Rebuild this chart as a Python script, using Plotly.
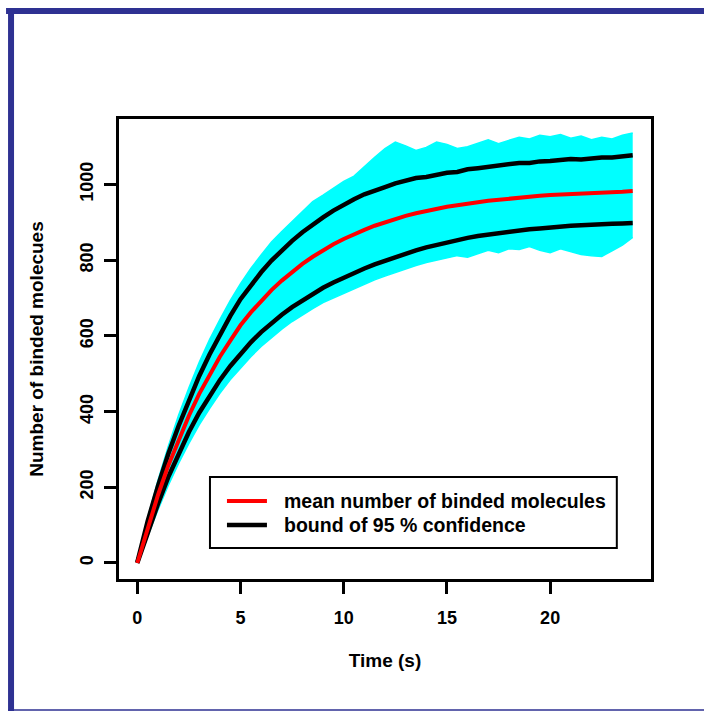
import plotly.graph_objects as go

# ---------------- data ----------------
time_s = [i * 0.5 for i in range(49)]  # 0 .. 24 s

mean_binded = [0, 94, 179, 257, 326, 389, 447, 498, 545, 587,
               628, 662, 693, 721, 746, 769, 790, 809, 826, 842,
               856, 869, 880, 891, 900, 909, 917, 924, 930, 935,
               941, 945, 950, 953, 957, 960, 963, 965, 967, 970,
               972, 973, 975, 976, 978, 979, 980, 981, 983]

upper_bound = [2, 110, 203, 288, 362, 431, 494, 551, 603, 652,
               697, 735, 768, 799, 826, 851, 874, 895, 913, 931,
               947, 961, 974, 985, 993, 1003, 1010, 1017, 1020, 1026,
               1031, 1033, 1040, 1043, 1047, 1050, 1054, 1057, 1057, 1061,
               1062, 1064, 1067, 1066, 1069, 1071, 1071, 1075, 1077]

lower_bound = [0, 80, 156, 227, 290, 346, 397, 442, 483, 520,
               553, 583, 610, 634, 656, 676, 694, 711, 727, 741,
               754, 766, 778, 789, 799, 809, 818, 826, 834, 841,
               848, 854, 859, 864, 868, 872, 876, 879, 882, 884,
               887, 889, 891, 892, 894, 895, 896, 897, 898]

runs_max = [5, 118, 218, 308, 390, 463, 530, 590, 643, 693,
            738, 778, 814, 848, 876, 903, 928, 955, 972, 990,
            1008, 1022, 1048, 1072, 1095, 1112, 1102, 1090, 1098, 1112,
            1106, 1095, 1100, 1110, 1118, 1108, 1116, 1125, 1120, 1130,
            1126, 1132, 1122, 1128, 1118, 1125, 1120, 1130, 1136]

runs_min = [0, 72, 140, 205, 263, 316, 365, 408, 448, 484,
            516, 545, 572, 596, 618, 638, 656, 672, 688, 700,
            712, 724, 738, 748, 758, 768, 778, 786, 794, 800,
            806, 812, 808, 818, 826, 820, 830, 828, 836, 826,
            820, 830, 822, 815, 812, 810, 825, 840, 860]

x_ticks = [0, 5, 10, 15, 20]
y_ticks = [0, 200, 400, 600, 800, 1000]

legend_labels = ["mean number of binded molecules", "bound of 95 % confidence"]

# ---------------- layout geometry ----------------
W, H = 704, 711
L, R, T, B = 119, 52.8, 119, 132
PW, PH = W - L - R, H - T - B
FRAME = "#2E3192"
CYAN = "#00FFFF"
FONT = dict(family="Liberation Sans, Arial, sans-serif", color="black", weight="bold")


def px(x):
    return (x - L) / PW


def py(y):
    return (H - B - y) / PH


fig = go.Figure()

# band of simulated runs
fig.add_trace(go.Scatter(x=time_s, y=runs_min, mode="lines",
                         line=dict(color=CYAN, width=1.5), showlegend=False,
                         hoverinfo="skip"))
fig.add_trace(go.Scatter(x=time_s, y=runs_max, mode="lines", fill="tonexty",
                         fillcolor=CYAN, line=dict(color=CYAN, width=1.5),
                         showlegend=False, hoverinfo="skip"))

# confidence bounds
fig.add_trace(go.Scatter(x=time_s, y=upper_bound, mode="lines",
                         line=dict(color="black", width=4.5),
                         name=legend_labels[1], showlegend=False))
fig.add_trace(go.Scatter(x=time_s, y=lower_bound, mode="lines",
                         line=dict(color="black", width=4.5),
                         name=legend_labels[1], showlegend=False))

# mean
fig.add_trace(go.Scatter(x=time_s, y=mean_binded, mode="lines",
                         line=dict(color="red", width=4),
                         name=legend_labels[0], showlegend=False))

axis_common = dict(showline=True, linewidth=3, linecolor="black", mirror=True,
                   ticks="outside", ticklen=12, tickwidth=3, tickcolor="black",
                   showgrid=False, zeroline=False,
                   tickfont=dict(size=18, **FONT))

fig.update_xaxes(range=[-0.886, 24.886], tickvals=x_ticks, ticklabelstandoff=8,
                 title=dict(text="Time (s)", font=dict(size=19, **FONT), standoff=28),
                 **axis_common)
fig.update_yaxes(range=[-42.3, 1173], tickvals=y_ticks, tickangle=-90,
                 ticklabelstandoff=4,
                 title=dict(text="Number of binded molecues", font=dict(size=19, **FONT), standoff=29),
                 **axis_common)

# outer frame of the figure
fig.add_shape(type="rect", xref="paper", yref="paper", x0=px(6), x1=px(706),
              y0=py(14), y1=py(8), fillcolor=FRAME, line_width=0, layer="above")
fig.add_shape(type="rect", xref="paper", yref="paper", x0=px(8), x1=px(14),
              y0=py(712), y1=py(8), fillcolor=FRAME, line_width=0, layer="above")
fig.add_shape(type="rect", xref="paper", yref="paper", x0=px(8), x1=px(706),
              y0=py(710.8), y1=py(709.3), fillcolor=FRAME, line_width=0, layer="above")

# legend box (drawn like R's legend())
fig.add_shape(type="rect", xref="paper", yref="paper", x0=px(210), x1=px(617),
              y0=py(548), y1=py(477), fillcolor="white",
              line=dict(color="black", width=2), layer="above")
for row_y, colr, lw, label in [(501, "red", 4, legend_labels[0]),
                               (525, "black", 4.5, legend_labels[1])]:
    fig.add_shape(type="line", xref="paper", yref="paper", x0=px(227), x1=px(267),
                  y0=py(row_y), y1=py(row_y), line=dict(color=colr, width=lw),
                  layer="above")
    fig.add_annotation(xref="paper", yref="paper", x=px(282), y=py(row_y),
                       xanchor="left", yanchor="middle", showarrow=False,
                       text=label, font=dict(size=19.5, **FONT))

fig.update_layout(
    width=W, height=H,
    margin=dict(l=L, r=R, t=T, b=B),
    paper_bgcolor="white", plot_bgcolor="white",
    font=dict(size=18, **FONT),
    showlegend=False,
)

fig.write_html("out.html",
               config={"displayModeBar": False, "staticPlot": True},
               post_script="document.body.style.margin='0';"
                           "document.body.style.overflow='hidden';")
